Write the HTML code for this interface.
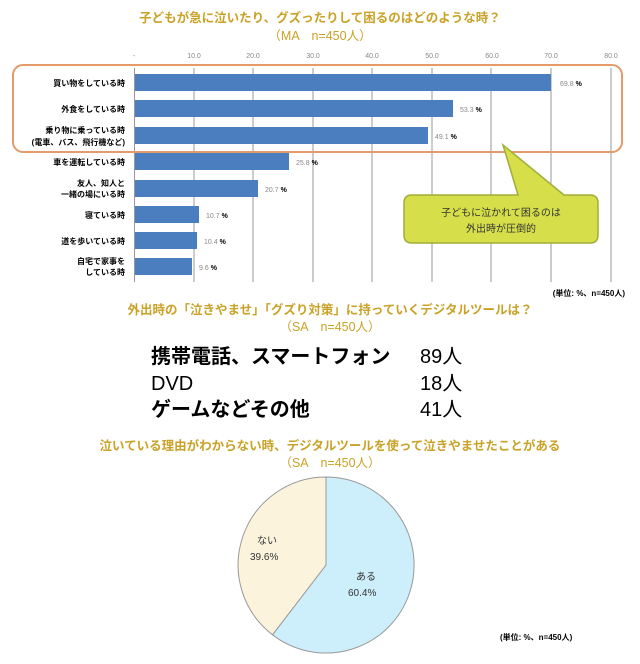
<!DOCTYPE html>
<html><head><meta charset="utf-8"><style>
html,body{margin:0;padding:0;background:#fff}
svg{display:block}
text{font-family:"Liberation Sans","Noto Sans CJK JP",sans-serif}
</style></head><body>
<svg width="640" height="664" viewBox="0 0 640 664" xmlns="http://www.w3.org/2000/svg">
<rect width="640" height="664" fill="#fff"/>
<text x="320" y="22" font-size="12.5" font-weight="bold" fill="#c9a227" text-anchor="middle">子どもが急に泣いたり、グズったりして困るのはどのような時？</text>
<text x="320" y="40" font-size="12.5" fill="#c9a227" text-anchor="middle">（MA　n=450人）</text>
<g font-size="7" fill="#888" text-anchor="middle">
<text x="134" y="58">-</text><text x="194" y="58">10.0</text><text x="253" y="58">20.0</text><text x="313" y="58">30.0</text><text x="372" y="58">40.0</text><text x="432" y="58">50.0</text><text x="492" y="58">60.0</text><text x="551" y="58">70.0</text><text x="611" y="58">80.0</text>
</g>
<g stroke="#999" stroke-width="1">
<line x1="134.5" y1="68" x2="134.5" y2="282"/>
<line x1="194" y1="68" x2="194" y2="282"/><line x1="253" y1="68" x2="253" y2="282"/><line x1="313" y1="68" x2="313" y2="282"/><line x1="372" y1="68" x2="372" y2="282"/><line x1="432" y1="68" x2="432" y2="282"/><line x1="491" y1="68" x2="491" y2="282"/><line x1="551" y1="68" x2="551" y2="282"/><line x1="611" y1="68" x2="611" y2="282"/>
</g>
<g fill="#4a7ebf">
<rect x="135" y="74" width="416" height="17"/>
<rect x="135" y="100" width="318" height="17"/>
<rect x="135" y="127" width="293" height="17"/>
<rect x="135" y="153" width="154" height="17"/>
<rect x="135" y="180" width="123" height="17"/>
<rect x="135" y="206" width="64" height="17"/>
<rect x="135" y="232" width="62" height="17"/>
<rect x="135" y="258" width="57" height="17"/>
</g>
<g font-size="7" fill="#888">
<text x="560" y="86">69.8 <tspan fill="#000" font-weight="bold">%</tspan></text>
<text x="460" y="112">53.3 <tspan fill="#000" font-weight="bold">%</tspan></text>
<text x="435" y="139">49.1 <tspan fill="#000" font-weight="bold">%</tspan></text>
<text x="296" y="165">25.8 <tspan fill="#000" font-weight="bold">%</tspan></text>
<text x="265" y="192">20.7 <tspan fill="#000" font-weight="bold">%</tspan></text>
<text x="206" y="218">10.7 <tspan fill="#000" font-weight="bold">%</tspan></text>
<text x="204" y="244">10.4 <tspan fill="#000" font-weight="bold">%</tspan></text>
<text x="199" y="270">9.6 <tspan fill="#000" font-weight="bold">%</tspan></text>
</g>
<g font-size="8" font-weight="bold" fill="#000" text-anchor="end">
<text x="125" y="86">買い物をしている時</text>
<text x="125" y="112">外食をしている時</text>
<text x="125" y="133">乗り物に乗っている時</text>
<text x="125" y="145">(電車、バス、飛行機など)</text>
<text x="125" y="165">車を運転している時</text>
<text x="125" y="186">友人、知人と</text>
<text x="125" y="197">一緒の場にいる時</text>
<text x="125" y="218">寝ている時</text>
<text x="125" y="244">道を歩いている時</text>
<text x="125" y="264">自宅で家事を</text>
<text x="125" y="275">している時</text>
</g>
<rect x="13" y="65" width="609" height="87" rx="10" fill="none" stroke="#e59a6a" stroke-width="2"/>
<path d="M412 195 L518 195 L503 145 L564 195 L590 195 Q598 195 598 203 L598 235 Q598 243 590 243 L412 243 Q404 243 404 235 L404 203 Q404 195 412 195 Z" fill="#d6df4a" stroke="#9fae3a" stroke-width="1.5"/>
<text x="501" y="216" font-size="10" fill="#333" text-anchor="middle">子どもに泣かれて困るのは</text>
<text x="501" y="232" font-size="10" fill="#333" text-anchor="middle">外出時が圧倒的</text>
<text x="625" y="296" font-size="8" font-weight="bold" fill="#000" text-anchor="end">(単位: %、n=450人)</text>
<text x="330" y="314" font-size="12.5" font-weight="bold" fill="#c9a227" text-anchor="middle">外出時の「泣きやませ」「グズり対策」に持っていくデジタルツールは？</text>
<text x="330" y="331" font-size="12.5" fill="#c9a227" text-anchor="middle">（SA　n=450人）</text>
<g font-size="20" fill="#000">
<text x="151" y="363" font-weight="bold">携帯電話、スマートフォン</text>
<text x="420" y="363">89人</text>
<text x="151" y="390">DVD</text>
<text x="420" y="390">18人</text>
<text x="151" y="416" font-weight="bold">ゲームなどその他</text>
<text x="420" y="416">41人</text>
</g>
<text x="330" y="450" font-size="12.5" font-weight="bold" fill="#c9a227" text-anchor="middle">泣いている理由がわからない時、デジタルツールを使って泣きやませたことがある</text>
<text x="330" y="467" font-size="12.5" fill="#c9a227" text-anchor="middle">（SA　n=450人）</text>
<path d="M326 565 L326 477 A88 88 0 1 1 272.5 634.8 Z" fill="#cdeefb" stroke="#999" stroke-width="1"/>
<path d="M326 565 L272.5 634.8 A88 88 0 0 1 326 477 Z" fill="#fbf3dc" stroke="#999" stroke-width="1"/>
<g font-size="10" fill="#333">
<text x="257" y="544">ない</text><text x="250" y="560">39.6%</text>
<text x="356" y="580">ある</text><text x="348" y="596">60.4%</text>
</g>
<text x="500" y="640" font-size="8" font-weight="bold" fill="#000">(単位: %、n=450人)</text>
</svg>
</body></html>
